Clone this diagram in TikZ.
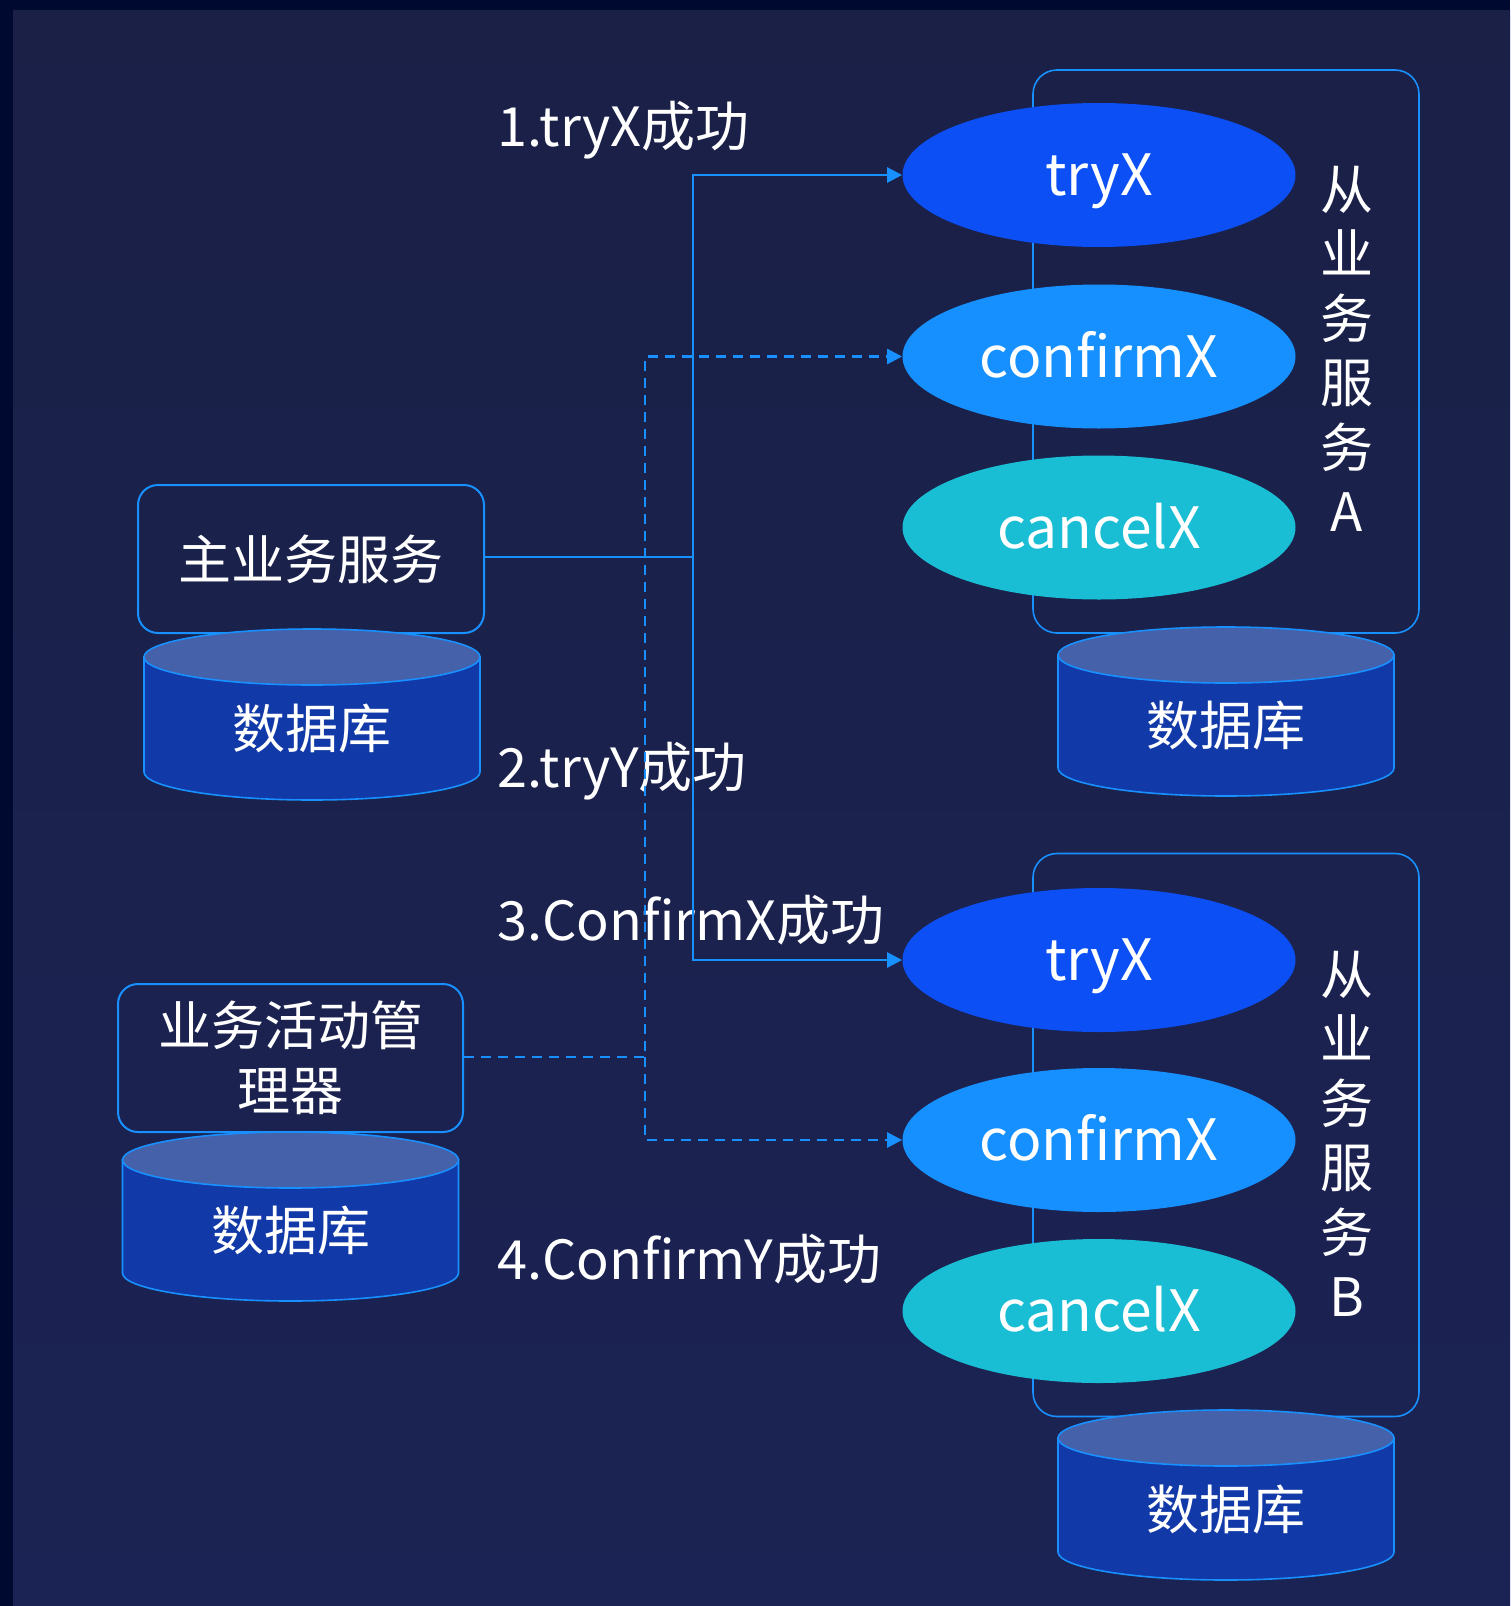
\documentclass[tikz,border=0pt]{standalone}
\usepackage{fontspec}
\newfontfamily\cjk{Noto Sans CJK SC}
\usetikzlibrary{shapes.geometric,arrows.meta}

\definecolor{edgebg}{HTML}{000A30}
\definecolor{bgtop}{HTML}{1A2046}
\definecolor{bgbot}{HTML}{1B2354}
\definecolor{linec}{HTML}{1890FF}
\definecolor{tryc}{HTML}{0B4FF5}
\definecolor{confc}{HTML}{1690FF}
\definecolor{cancc}{HTML}{19BDD4}
\definecolor{dbbody}{HTML}{1139A7}
\definecolor{dbtopc}{HTML}{4561A9}

\tikzset{
    svcbox/.style={draw=linec, line width=1pt, rounded corners=10pt, text=white,
        minimum width=173pt, minimum height=74pt, align=center,
        font=\cjk\fontsize{26.5}{32.5}\selectfont},
    groupbox/.style={draw=linec, line width=0.8pt, rounded corners=12pt,
        minimum width=193pt, minimum height=281.5pt},
    opnode/.style={ellipse, inner sep=0pt, minimum width=196.5pt, minimum height=72pt,
        text height=20.5pt, text depth=0pt,
        text=white, font=\cjk\fontsize{28.5}{34}\selectfont},
    vlabel/.style={text=white, align=center, font=\cjk\fontsize{26.5}{32.25}\selectfont},
    steplabel/.style={anchor=west, inner sep=0pt, text=white, font=\cjk\fontsize{27}{32}\selectfont},
    dbtext/.style={text=white, font=\cjk\fontsize{26.5}{32}\selectfont},
    flow/.style={draw=linec, line width=1.4pt, -{Triangle[length=7.5pt,width=7.5pt]}},
    dflow/.style={flow, dash pattern=on 5pt off 3.5pt},
}

% database cylinder: name, centre x, top y, bottom y
\newcommand{\dbcyl}[4]{%
    \filldraw[fill=dbbody, draw=linec, line width=0.8pt] ({#2-168},#3) -- ({#2-168},#4)
        arc[start angle=180, end angle=0, x radius=168, y radius=28] -- ({#2+168},#3) -- cycle;
    \filldraw[fill=dbtopc, draw=linec, line width=0.8pt] (#2,#3) ellipse[x radius=168, y radius=28];
    \node[dbtext] (#1) at (#2,{(#3+#4)/2+14}) {数据库};
}

\begin{document}
\begin{tikzpicture}[x=0.5pt, y=-0.5pt]
    \useasboundingbox (0,0) rectangle (1510,1606);
    % background
    \fill[edgebg] (0,0) rectangle (1510,1606);
    \shade[top color=bgtop, bottom color=bgbot] (13,10) rectangle (1510,1606);

    % participant groups
    \node[groupbox] (grpA) at (1226,351.5) {};
    \node[groupbox] (grpB) at (1226,1135) {};

    \node[opnode, fill=tryc] (tryXA) at (1099,175) {tryX};
    \node[opnode, fill=confc] (confXA) at (1099,356.5) {confirmX};
    \node[opnode, fill=cancc] (cancXA) at (1099,527.5) {cancelX};
    \node[opnode, fill=tryc] (tryXB) at (1099,960) {tryX};
    \node[opnode, fill=confc] (confXB) at (1099,1140) {confirmX};
    \node[opnode, fill=cancc] (cancXB) at (1099,1311) {cancelX};

    \node[vlabel] (nameA) at (1347,349) {从\\业\\务\\服\\务\\A};
    \node[vlabel] (nameB) at (1347,1134) {从\\业\\务\\服\\务\\B};

    % main service and activity manager
    \node[svcbox] (main) at (311,559) {主业务服务};
    \node[svcbox, minimum width=172.5pt] (mgr) at (290.5,1058) {业务活动管\\理器};

    % databases
    \dbcyl{dbMain}{312}{657}{772}
    \dbcyl{dbMgr}{290.5}{1160}{1273}
    \dbcyl{dbA}{1226}{655}{768}
    \dbcyl{dbB}{1226}{1438}{1552}

    % step labels
    \node[steplabel] (s1) at (497,130) {1.tryX成功};
    \node[steplabel] (s2) at (497,771) {2.tryY成功};
    \node[steplabel] (s3) at (497,920) {3.ConfirmX成功};
    \node[steplabel] (s4) at (497,1259) {4.ConfirmY成功};

    % connectors
    \coordinate (trunk) at (693,557);
    \coordinate (dsplit) at (645,1057);
    \draw[flow] (main.east |- trunk) -- (trunk) |- (tryXA.west);
    \draw[flow] (trunk) |- (tryXB.west);
    \draw[dflow] (mgr.east |- dsplit) -- (dsplit) |- (confXA.west);
    \draw[dflow] (dsplit) |- (confXB.west);
\end{tikzpicture}
\end{document}
